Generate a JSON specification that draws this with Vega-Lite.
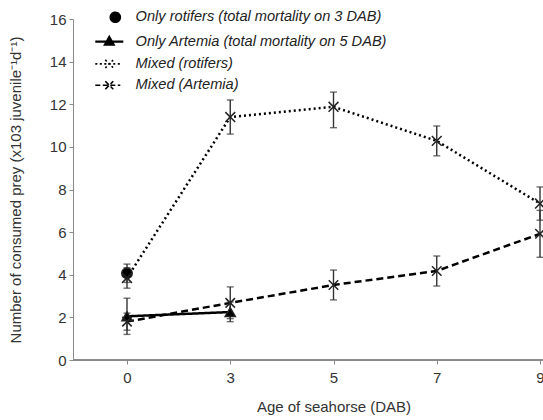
{
  "$schema": "https://vega.github.io/schema/vega-lite/v6.json",
  "width": 470,
  "height": 341,
  "autosize": {"type": "none"},
  "padding": {"left": 73, "top": 19, "right": 0, "bottom": 60},
  "config": {
    "view": {"stroke": null},
    "font": "Liberation Sans",
    "axis": {
      "grid": false,
      "domainColor": "#8a8a8a",
      "tickColor": "#8a8a8a",
      "tickSize": 4,
      "labelFontSize": 15,
      "labelColor": "#333333",
      "titleFontSize": 15,
      "titleFontWeight": "normal",
      "titleColor": "#333333"
    },
    "legend": {
      "labelFontSize": 14.6,
      "labelFontStyle": "italic",
      "labelColor": "#222222",
      "labelLimit": 0,
      "padding": 0
    }
  },
  "data": {
    "values": [
      {"series": "Only rotifers (total mortality on 3 DAB)", "dab": 0, "mean": 4.07, "lo": 3.64, "hi": 4.5},
      {"series": "Only Artemia (total mortality on 5 DAB)", "dab": 0, "mean": 2.05, "lo": 1.2, "hi": 2.9},
      {"series": "Only Artemia (total mortality on 5 DAB)", "dab": 3, "mean": 2.25, "lo": 1.8, "hi": 2.72},
      {"series": "Mixed (rotifers)", "dab": 0, "mean": 3.85, "lo": 3.37, "hi": 4.33},
      {"series": "Mixed (rotifers)", "dab": 3, "mean": 11.4, "lo": 10.6, "hi": 12.2},
      {"series": "Mixed (rotifers)", "dab": 5, "mean": 11.88, "lo": 10.9, "hi": 12.57},
      {"series": "Mixed (rotifers)", "dab": 7, "mean": 10.28, "lo": 9.58, "hi": 10.98},
      {"series": "Mixed (rotifers)", "dab": 9, "mean": 7.34, "lo": 6.56, "hi": 8.12},
      {"series": "Mixed (Artemia)", "dab": 0, "mean": 1.8, "lo": 1.4, "hi": 2.2},
      {"series": "Mixed (Artemia)", "dab": 3, "mean": 2.68, "lo": 1.94, "hi": 3.43},
      {"series": "Mixed (Artemia)", "dab": 5, "mean": 3.52, "lo": 2.82, "hi": 4.22},
      {"series": "Mixed (Artemia)", "dab": 7, "mean": 4.18, "lo": 3.47, "hi": 4.88},
      {"series": "Mixed (Artemia)", "dab": 9, "mean": 5.92, "lo": 4.82, "hi": 7.02}
    ]
  },
  "encoding": {
    "x": {
      "field": "dab",
      "type": "ordinal",
      "scale": {"type": "point", "domain": [0, 3, 5, 7, 9], "range": [54, 467], "padding": 0},
      "axis": {"domain": false, "labelAngle": 0, "labelPadding": 6, "titlePadding": 14, "title": "Age of seahorse (DAB)"}
    }
  },
  "resolve": {"scale": {"shape": "independent"}},
  "layer": [
    {
      "mark": {"type": "rule", "color": "#8a8a8a", "strokeWidth": 1},
      "encoding": {"x": null, "y": {"datum": 0, "type": "quantitative", "scale": {"domain": [0, 16]}}}
    },
    {
      "mark": {"type": "line", "color": "#000000"},
      "encoding": {
        "y": {
          "field": "mean",
          "type": "quantitative",
          "scale": {"domain": [0, 16], "nice": false},
          "axis": {"values": [0, 2, 4, 6, 8, 10, 12, 14, 16], "labelPadding": 3, "titlePadding": 26},
          "title": "Number of consumed prey (x103 juvenile⁻¹d⁻¹)"
        },
        "detail": {"field": "series"},
        "strokeDash": {
          "field": "series",
          "type": "nominal",
          "scale": {
            "domain": ["Only rotifers (total mortality on 3 DAB)", "Only Artemia (total mortality on 5 DAB)", "Mixed (rotifers)", "Mixed (Artemia)"],
            "range": [[1, 0], [1, 0], [2, 3], [7, 4]]
          },
          "legend": null
        },
        "strokeWidth": {
          "field": "series",
          "type": "nominal",
          "scale": {
            "domain": ["Only rotifers (total mortality on 3 DAB)", "Only Artemia (total mortality on 5 DAB)", "Mixed (rotifers)", "Mixed (Artemia)"],
            "range": [2.5, 2.5, 2.2, 2.6]
          },
          "legend": null
        }
      }
    },
    {
      "mark": {"type": "rule", "color": "#333333", "strokeWidth": 1.4},
      "encoding": {
        "y": {"field": "lo", "type": "quantitative", "title": "Number of consumed prey (x103 juvenile⁻¹d⁻¹)"},
        "y2": {"field": "hi"}
      }
    },
    {
      "mark": {"type": "tick", "color": "#333333", "thickness": 1.4, "size": 7},
      "encoding": {"y": {"field": "lo", "type": "quantitative", "title": "Number of consumed prey (x103 juvenile⁻¹d⁻¹)"}}
    },
    {
      "mark": {"type": "tick", "color": "#333333", "thickness": 1.4, "size": 7},
      "encoding": {"y": {"field": "hi", "type": "quantitative", "title": "Number of consumed prey (x103 juvenile⁻¹d⁻¹)"}}
    },
    {
      "mark": {"type": "point", "filled": true, "fill": "#000000", "stroke": "#222222", "strokeWidth": 1.5, "opacity": 1},
      "encoding": {
        "y": {"field": "mean", "type": "quantitative", "title": "Number of consumed prey (x103 juvenile⁻¹d⁻¹)"},
        "shape": {
          "field": "series",
          "type": "nominal",
          "scale": {
            "domain": ["Only rotifers (total mortality on 3 DAB)", "Only Artemia (total mortality on 5 DAB)", "Mixed (rotifers)", "Mixed (Artemia)"],
            "range": ["circle", "triangle-up", "M-1,-1L1,1M-1,1L1,-1", "M-1,-1L1,1M-1,1L1,-1"]
          },
          "legend": null
        },
        "size": {
          "field": "series",
          "type": "nominal",
          "scale": {
            "domain": ["Only rotifers (total mortality on 3 DAB)", "Only Artemia (total mortality on 5 DAB)", "Mixed (rotifers)", "Mixed (Artemia)"],
            "range": [110, 90, 70, 70]
          },
          "legend": null
        }
      }
    },
    {
      "mark": {"type": "point", "filled": true, "fill": "#000000", "stroke": "#000000", "strokeWidth": 1.8, "opacity": 0, "size": 400},
      "encoding": {
        "y": {"field": "mean", "type": "quantitative", "title": "Number of consumed prey (x103 juvenile⁻¹d⁻¹)"},
        "shape": {
          "field": "series",
          "type": "nominal",
          "scale": {
            "domain": ["Only rotifers (total mortality on 3 DAB)", "Only Artemia (total mortality on 5 DAB)", "Mixed (rotifers)", "Mixed (Artemia)"],
            "range": [
              "M1.1,0A0.5,0.5,0,1,1,0.1,0A0.5,0.5,0,1,1,1.1,0Z",
              "M-1.4,0H1.4M0,-0.45L0.42,0.3L-0.42,0.3Z",
              "M-1.4,0H1.1M-0.4,-0.4L0.4,0.4M-0.4,0.4L0.4,-0.4",
              "M-1.4,0H1.1M-0.4,-0.4L0.4,0.4M-0.4,0.4L0.4,-0.4"
            ]
          },
          "legend": {
            "title": null,
            "orient": "none",
            "legendX": 29,
            "legendY": -9,
            "symbolSize": 400,
            "labelOffset": 19,
            "rowPadding": 5.3,
            "symbolOpacity": 1,
            "encoding": {
              "symbols": {
                "fill": {"value": "#000000"},
                "stroke": {"value": "#000000"},
                "opacity": {"value": 1},
                "strokeWidth": {"value": {"expr": "datum.value === 'Only Artemia (total mortality on 5 DAB)' ? 2.4 : 1.6"}},
                "strokeDash": {"value": {"expr": "datum.value === 'Mixed (rotifers)' ? [2, 2.5] : (datum.value === 'Mixed (Artemia)' ? [5, 2.5] : [1, 0])"}}
              }
            }
          }
        }
      }
    }
  ]
}
